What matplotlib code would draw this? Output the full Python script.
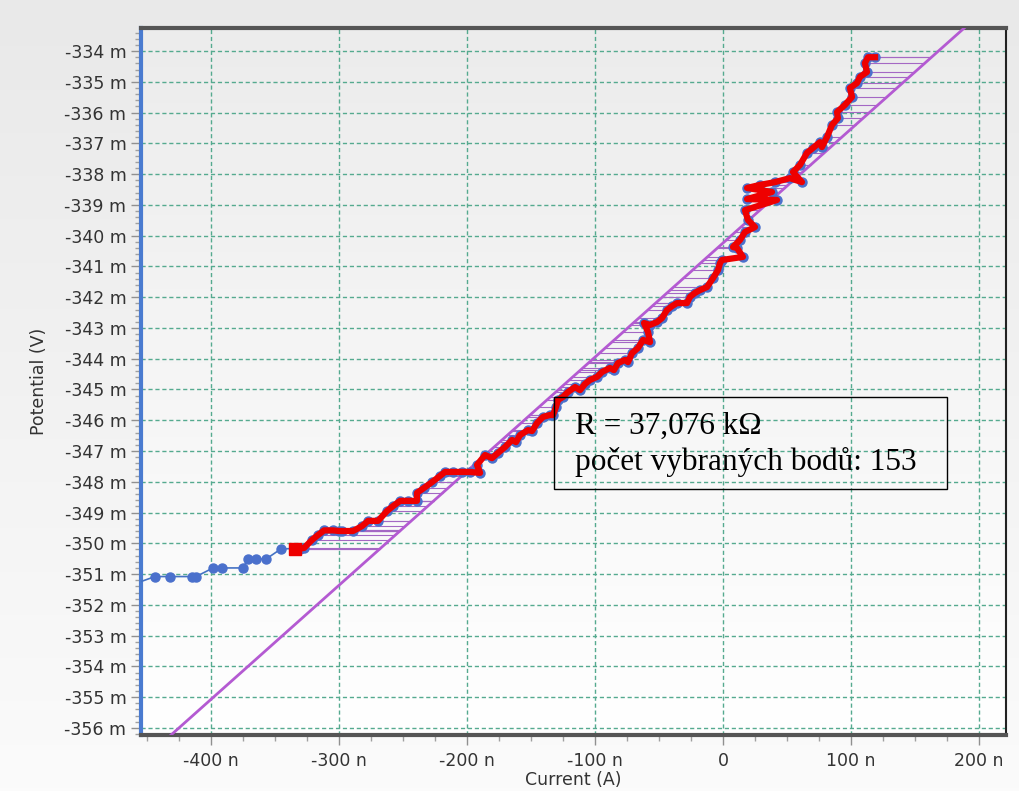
import numpy as np
import matplotlib.pyplot as plt
from matplotlib.colors import LinearSegmentedColormap
from matplotlib.patches import Rectangle
from matplotlib.ticker import FuncFormatter, MultipleLocator

# proud v nA, napětí v mV
current_other = [-462.0, -443.8, -432.0, -414.8, -411.7, -398.4, -391.4,
                 -375.0, -371.1, -364.8, -357.0, -345.3]
potential_other = [-351.35, -351.08, -351.08, -351.08, -351.08, -350.80, -350.80,
                   -350.80, -350.51, -350.51, -350.51, -350.18]

# vybrané body pro fit
current_sel = [-334.4, -330.5, -327.3, -321.1, -316.4, -311.7, -304.7, -300.0, -297.7, -289.1,
               -282.0, -277.3, -269.5, -262.5, -257.8, -252.3, -246.1, -239.1, -239.1, -233.6,
               -227.3, -221.1, -217.2, -210.9, -203.9, -197.7, -189.8, -192.2, -185.9, -180.5,
               -175.8, -170.3, -164.8, -161.7, -158.6, -152.3, -149.2, -145.3, -140.6, -135.2,
               -132.8, -130.5, -128.9, -125.0, -121.1, -115.6, -111.7, -107.8, -103.9, -98.4,
               -94.5, -88.3, -85.2, -82.0, -76.6, -74.2, -71.1, -66.4, -62.5, -57.0,
               -58.6, -61.7, -57.0, -51.6, -47.7, -43.8, -39.8, -35.9, -28.1, -25.8,
               -21.9, -18.0, -12.5, -7.8, -3.9, -2.3, -0.8, 15.6, 10.9, 7.8,
               13.3, 17.2, 25.0, 19.5, 17.2, 42.2, 18.8, 38.3, 18.8, 28.9,
               40.6, 52.3, 61.7, 54.7, 60.2, 65.6, 70.3, 75.8, 77.3, 81.3,
               85.2, 89.8, 89.1, 95.3, 100.8, 99.2, 104.7, 107.0, 112.5, 110.9,
               113.3, 118.8]
potential_sel = [-350.17, -350.17, -350.15, -349.89, -349.73, -349.58, -349.58, -349.60, -349.60, -349.60,
                 -349.44, -349.27, -349.27, -348.95, -348.79, -348.62, -348.62, -348.62, -348.36, -348.20,
                 -348.01, -347.81, -347.68, -347.68, -347.68, -347.68, -347.71, -347.45, -347.13, -347.23,
                 -347.06, -346.87, -346.64, -346.71, -346.48, -346.32, -346.35, -346.09, -345.89, -345.83,
                 -345.83, -345.57, -345.34, -345.24, -345.08, -344.92, -345.02, -344.82, -344.69, -344.59,
                 -344.43, -344.30, -344.37, -344.14, -344.04, -344.11, -343.82, -343.65, -343.39, -343.46,
                 -343.13, -342.84, -342.90, -342.81, -342.68, -342.42, -342.29, -342.19, -342.19, -341.99,
                 -341.86, -341.77, -341.67, -341.38, -341.12, -340.89, -340.79, -340.69, -340.40, -340.37,
                 -340.14, -339.88, -339.72, -339.49, -339.17, -338.84, -338.81, -338.58, -338.45, -338.35,
                 -338.26, -338.13, -338.26, -337.93, -337.70, -337.31, -337.15, -336.96, -337.12, -336.79,
                 -336.40, -336.18, -335.98, -335.75, -335.49, -335.20, -335.04, -334.84, -334.68, -334.39,
                 -334.20, -334.20]

resistance_kohm = 37.076
offset_mv = -340.24
n_selected = 153

slope = resistance_kohm * 1e-3   # mV / nA
xlim = (-454.7, 221.1)
ylim = (-356.23, -333.25)

fig = plt.figure(figsize=(10.19, 7.91), dpi=100)

# pozadí s přechodem
bg = fig.add_axes([0, 0, 1, 1], zorder=-10)
grad = np.linspace(0, 1, 256).reshape(-1, 1)
bg.imshow(grad, aspect='auto', extent=(0, 1, 0, 1), origin='lower',
          cmap=LinearSegmentedColormap.from_list('bg', ['#fbfbfb', '#e9e9e9']))
bg.axis('off')

ax = fig.add_axes([0.1384, 0.0708, 0.8488, 0.8938])
ax.set_facecolor('none')
ax.imshow(grad, aspect='auto', extent=(0, 1, 0, 1), origin='lower', transform=ax.transAxes,
          cmap=LinearSegmentedColormap.from_list('pa', ['#ffffff', '#ececec']), zorder=0)

ax.set_xlim(*xlim)
ax.set_ylim(*ylim)

# mřížka
ax.set_axisbelow(True)
ax.grid(True, which='major', color='#55aa8f', linestyle=(0, (3, 2)), linewidth=1.0, zorder=1)

# fit
fx = np.array(xlim)
ax.plot(fx, offset_mv + slope * fx, color='#b45ad2', linewidth=2, zorder=3)

# šrafování od bodů k přímce
sel_i = np.array(current_sel)
sel_v = np.array(potential_sel)
ax.hlines(sel_v, sel_i, (sel_v - offset_mv) / slope, color='#a468c4', linewidth=0.8, zorder=2)

# všechna data
all_i = current_other + current_sel
all_v = potential_other + potential_sel
ax.plot(all_i, all_v, color='#4472c4', linewidth=1.2, marker='o', markersize=6.5,
        markerfacecolor='#4a70cc', markeredgecolor='#4a70cc', zorder=4)

# vybraný úsek
ax.plot(sel_i, sel_v, color='#ee0000', linewidth=4.5, solid_joinstyle='round', zorder=5)
ax.plot(sel_i[:1], sel_v[:1], marker='s', markersize=8, color='#ee0000', zorder=6)

# osy
ax.xaxis.set_major_locator(MultipleLocator(100))
ax.xaxis.set_minor_locator(MultipleLocator(25))
ax.yaxis.set_major_locator(MultipleLocator(1))
ax.yaxis.set_minor_locator(MultipleLocator(0.2))
ax.xaxis.set_major_formatter(FuncFormatter(lambda v, p: '0' if abs(v) < 1e-6 else f'{v:.0f} n'))
ax.yaxis.set_major_formatter(FuncFormatter(lambda v, p: f'{v:.0f} m'))
ax.tick_params(axis='both', which='major', length=7, width=1, color='#909090',
               labelsize=12.5, labelcolor='#333333')
ax.tick_params(axis='both', which='minor', length=4, width=1, color='#a0a0a0')
ax.tick_params(axis='x', pad=5)

for side, col, lw in [('left', '#4a7bd0', 3), ('top', '#555555', 3),
                      ('bottom', '#555555', 3), ('right', '#222222', 1.5)]:
    ax.spines[side].set_color(col)
    ax.spines[side].set_linewidth(lw)

ax.set_xlabel('Current (A)', fontsize=12.5, color='#333333', labelpad=1)
ax.set_ylabel('Potential (V)', fontsize=12.5, color='#333333', labelpad=12)

# popisek s výsledkem
ax.add_patch(Rectangle((0.4775, 0.348), 0.4543, 0.130, transform=ax.transAxes,
                       facecolor='none', edgecolor='black', linewidth=1.0, zorder=7))
ax.text(0.5017, 0.436, f'R = {resistance_kohm:.3f}'.replace('.', ',') + ' kΩ',
        transform=ax.transAxes, fontsize=22.5, family='Liberation Serif', va='center', zorder=8)
ax.text(0.5017, 0.3866, f'počet vybraných bodů: {n_selected}',
        transform=ax.transAxes, fontsize=22.5, family='Liberation Serif', va='center', zorder=8)

fig.savefig('out.png', dpi=100)
